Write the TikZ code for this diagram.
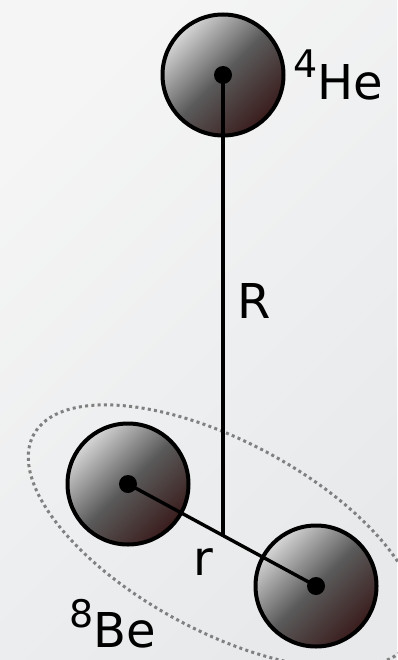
\documentclass[tikz,border=0pt]{standalone}
\usepackage{fontspec}
\setmainfont{DejaVu Sans}
\usetikzlibrary{calc}
\definecolor{bglight}{RGB}{245,245,245}
\definecolor{bgdark}{RGB}{231,233,235}
\definecolor{atomlight}{RGB}{215,215,215}
\definecolor{atommid}{RGB}{90,90,90}
\definecolor{atomdark}{RGB}{58,28,28}
\definecolor{ringgray}{RGB}{128,128,128}
\pgfdeclareverticalshading{atomshade}{100bp}{color(0bp)=(atomdark); color(25bp)=(atomdark); color(50bp)=(atommid); color(75bp)=(atomlight); color(100bp)=(atomlight)}
\tikzset{
  atom/.style={circle, draw=black, line width=4pt, minimum size=121pt, inner sep=0pt,
    shading=atomshade, shading angle=45},
  nucdot/.style={circle, fill=black, minimum size=18pt, inner sep=0pt},
  bond/.style={line width=3.4pt, draw=black},
  ring/.style={draw=ringgray, line width=3pt, dash pattern=on 3pt off 3.3pt},
  lbl/.style={anchor=base west, inner sep=0pt, font=\fontsize{48}{48}\selectfont},
}
\begin{document}
\begin{tikzpicture}[x=1pt,y=-1pt]
\shade[top color=bglight, bottom color=bgdark, shading angle=45] (0,0) rectangle (397,660);
\useasboundingbox (0,0) rectangle (397,660);
\coordinate (c) at (223,536.5);
\draw[ring, rotate around={-28.2:(c)}] (c) ellipse [x radius=215pt, y radius=95pt];
\node[atom] (he) at (223,75) {};
\node[atom] (b1) at (128,484) {};
\node[atom] (b2) at (316,586) {};
\coordinate (m) at ($(b1.center)!0.5!(b2.center)$);
\draw[bond] (he.center) -- (he.center |- m);
\draw[bond] (b1.center) -- (b2.center);
\node[nucdot] (d0) at (he.center) {};
\node[nucdot] (d1) at (b1.center) {};
\node[nucdot] (d2) at (b2.center) {};
\node[lbl] (lhe) at (293,100) {\raisebox{22pt}{\fontsize{38}{38}\selectfont 4}He};
\node[lbl] (lR) at (237,318) {R};
\node[lbl] (lr) at (193,575) {r};
\node[lbl] (lbe) at (69,647) {\raisebox{20pt}{\fontsize{38}{38}\selectfont 8}Be};
\end{tikzpicture}
\end{document}
